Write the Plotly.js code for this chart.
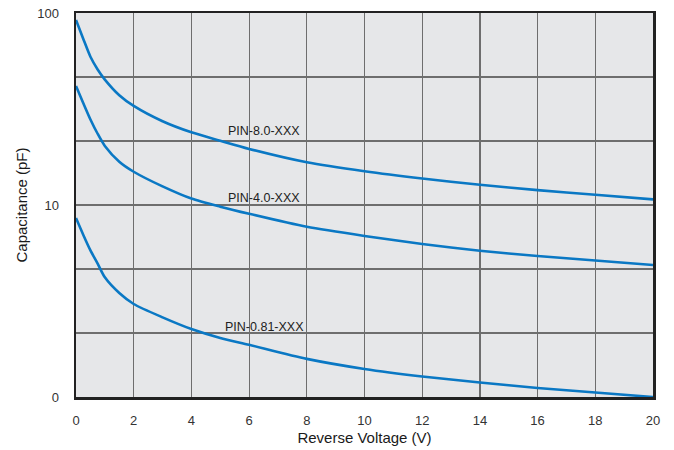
<!DOCTYPE html>
<html>
<head>
<meta charset="utf-8">
<script src="https://cdn.plot.ly/plotly-3.0.1.min.js"></script>
<style>html,body{margin:0;padding:0;background:#fff;}#chart{width:674px;height:450px;}</style>
</head>
<body>
<div id="chart"></div>
<script>
const voltage = [0, 0.25, 0.5, 0.75, 1, 1.5, 2, 3, 4, 5, 6, 8, 10, 12, 14, 16, 18, 20];
const pin80 = [92, 73.5, 59.2, 50.8, 45, 37.3, 32.8, 27.3, 23.9, 21.6, 19.6, 16.7, 15.0, 13.75, 12.75, 11.95, 11.3, 10.7];
const pin40 = [41.7, 34, 27.9, 23.5, 20.3, 16.8, 14.9, 12.5, 10.8, 9.8, 9.0, 7.7, 6.9, 6.27, 5.78, 5.42, 5.14, 4.87];
const pin081 = [8.55, 7.0, 5.8, 4.95, 4.2, 3.48, 3.05, 2.6, 2.26, 2.03, 1.87, 1.58, 1.40, 1.28, 1.19, 1.115, 1.055, 1.0];
const seriesNames = ['PIN-8.0-XXX', 'PIN-4.0-XXX', 'PIN-0.81-XXX'];
const yTickVals = [1, 2.1544, 4.6416, 10, 21.544, 46.416, 100];
const yTickText = ['0', '', '', '10', '', '', '100'];
const xTickVals = [0, 2, 4, 6, 8, 10, 12, 14, 16, 18, 20];
const labelX = [5.2, 5.2, 5.1];
const labelY = [1.385, 1.036, 0.365];

const lineStyle = {color: '#0a78c4', width: 2.6, shape: 'spline', smoothing: 0.7};
const traces = [pin80, pin40, pin081].map((ys, i) => ({
  x: voltage, y: ys, type: 'scatter', mode: 'lines', name: seriesNames[i],
  line: lineStyle, hoverinfo: 'skip'
}));

const annotations = seriesNames.map((n, i) => ({
  x: labelX[i], y: labelY[i], xref: 'x', yref: 'y', text: n, showarrow: false,
  xanchor: 'left', yanchor: 'middle',
  font: {family: 'Liberation Sans, Arial, sans-serif', size: 12.5, color: '#222'}
}));

const layout = {
  width: 674, height: 450,
  margin: {l: 76, r: 21, t: 13, b: 53},
  paper_bgcolor: '#ffffff', plot_bgcolor: '#e6e7e9',
  showlegend: false,
  font: {family: 'Liberation Sans, Arial, sans-serif', color: '#333'},
  xaxis: {
    range: [0, 20], tickvals: xTickVals, ticks: 'outside', ticklen: 10, tickcolor: 'rgba(0,0,0,0)',
    showgrid: true, gridcolor: '#6e6e6e', gridwidth: 1.2, zeroline: false,
    showline: true, linecolor: '#222', linewidth: 2.5, mirror: true,
    tickfont: {size: 13, color: '#333'},
    title: {text: 'Reverse Voltage (V)', font: {size: 15, color: '#1a1a1a'}, standoff: 6}
  },
  yaxis: {
    type: 'log', range: [0, 2], tickvals: yTickVals, ticktext: yTickText,
    ticks: 'outside', ticklen: 12, tickcolor: 'rgba(0,0,0,0)',
    showgrid: true, gridcolor: '#6e6e6e', gridwidth: 1.2, zeroline: false,
    showline: true, linecolor: '#222', linewidth: 2.5, mirror: true,
    tickfont: {size: 13, color: '#333'},
    title: {text: 'Capacitance (pF)', font: {size: 15, color: '#1a1a1a'}, standoff: 6}
  },
  annotations: annotations
};

Plotly.newPlot('chart', traces, layout, {staticPlot: true, displayModeBar: false});
</script>
</body>
</html>
